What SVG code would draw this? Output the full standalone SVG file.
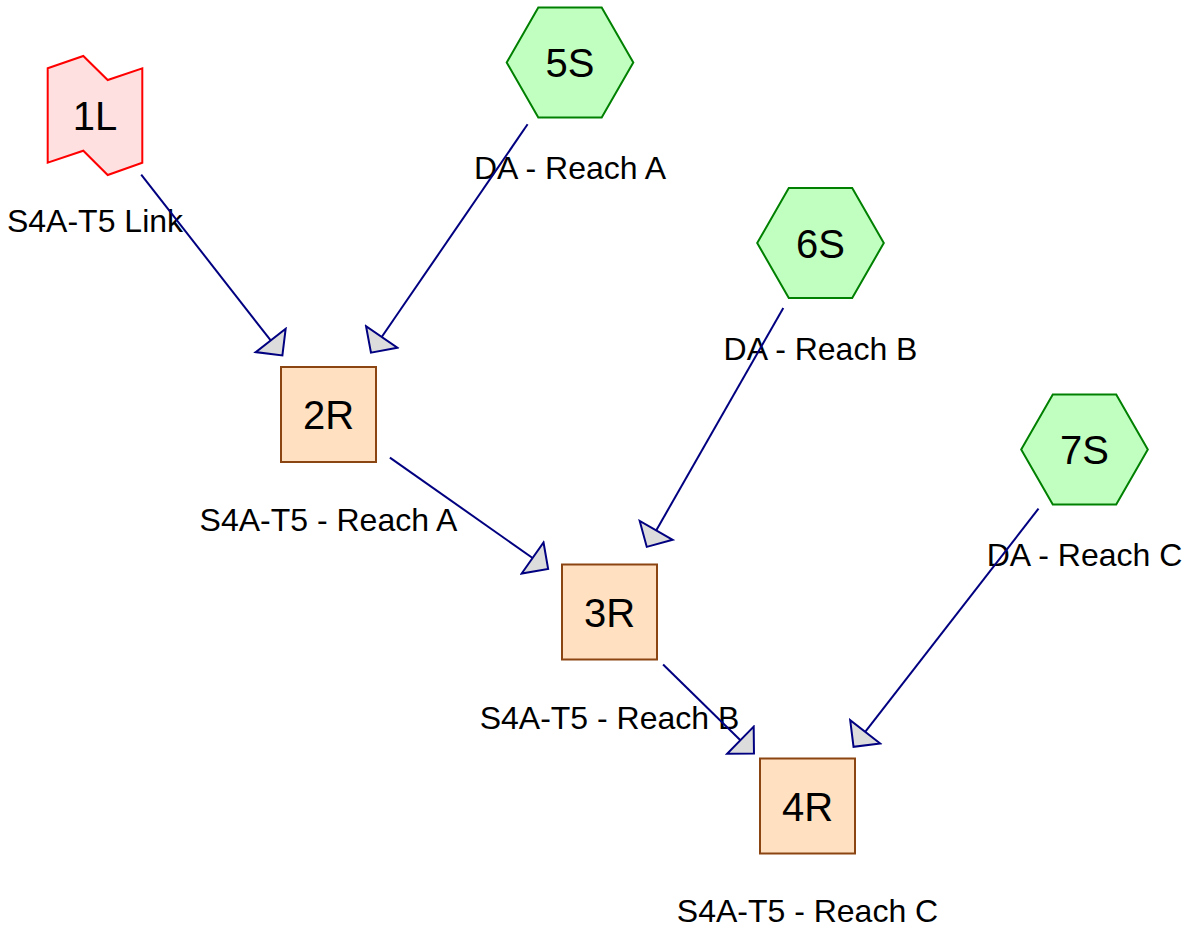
<svg xmlns="http://www.w3.org/2000/svg" width="1190" height="931" viewBox="0 0 1190 931">
<style>
text{font-family:"Liberation Sans",Arial,sans-serif;fill:#000;text-anchor:middle}
.nt{font-size:40px}
.lb{font-size:32px}
.link{fill:#ffe0e0;stroke:#ff0000;stroke-width:2}
.src{fill:#c0ffc0;stroke:#008000;stroke-width:2}
.reach{fill:#ffe0c0;stroke:#8b4513;stroke-width:2}
.edge{stroke:#000080;stroke-width:2;fill:none;marker-end:url(#arr)}
</style>
<defs>
<marker id="arr" viewBox="-2 -21 23 42" markerWidth="23" markerHeight="42" refX="0" refY="0" orient="auto" markerUnits="userSpaceOnUse">
<path d="M0,-19 L19,0 L0,19 Z" fill="#dcdcdc" stroke="#000080" stroke-width="2" stroke-linejoin="miter"/>
</marker>
</defs>
<rect width="1190" height="931" fill="#fff"/>
<g id="n1L">
<path class="link" d="M47.7,68.3 L83.3,56 L107.7,80 L142.3,68.3 L142.3,162.7 L107.7,175 L83.3,150.7 L47.7,162.7 Z"/>
<text class="nt" x="95" y="130">1L</text>
<text class="lb" x="95" y="232">S4A-T5 Link</text>
</g>
<g id="n5S">
<polygon class="src" points="506.7,62.5 538.3,7.5 601.7,7.5 633.3,62.5 601.7,117.5 538.3,117.5"/>
<text class="nt" x="570" y="77">5S</text>
<text class="lb" x="570" y="179">DA - Reach A</text>
</g>
<g id="n6S">
<polygon class="src" points="757.2,243 788.8,188 852.2,188 883.8,243 852.2,298 788.8,298"/>
<text class="nt" x="820.5" y="257.5">6S</text>
<text class="lb" x="820.5" y="359.5">DA - Reach B</text>
</g>
<g id="n7S">
<polygon class="src" points="1021.2,449.5 1052.8,394.5 1116.2,394.5 1147.8,449.5 1116.2,504.5 1052.8,504.5"/>
<text class="nt" x="1084.5" y="464">7S</text>
<text class="lb" x="1084.5" y="566">DA - Reach C</text>
</g>
<g id="n2R">
<rect class="reach" x="281" y="367" width="95" height="95"/>
<text class="nt" x="328.5" y="429">2R</text>
<text class="lb" x="328.5" y="531">S4A-T5 - Reach A</text>
</g>
<g id="n3R">
<rect class="reach" x="562" y="564.5" width="95" height="95"/>
<text class="nt" x="609.5" y="626.5">3R</text>
<text class="lb" x="609.5" y="728.5">S4A-T5 - Reach B</text>
</g>
<g id="n4R">
<rect class="reach" x="760" y="758.5" width="95" height="95"/>
<text class="nt" x="807.5" y="820.5">4R</text>
<text class="lb" x="807.5" y="922">S4A-T5 - Reach C</text>
</g>
<g id="connectors">
<line class="edge" x1="141.2" y1="174.6" x2="270.7" y2="340.4"/>
<line class="edge" x1="527.6" y1="124.3" x2="381.7" y2="337.0"/>
<line class="edge" x1="389.9" y1="457.6" x2="532.6" y2="558.0"/>
<line class="edge" x1="783.3" y1="308.1" x2="656.2" y2="530.4"/>
<line class="edge" x1="663.1" y1="664.5" x2="740.4" y2="740.2"/>
<line class="edge" x1="1038.5" y1="508.7" x2="865.2" y2="731.8"/>
</g>
</svg>
